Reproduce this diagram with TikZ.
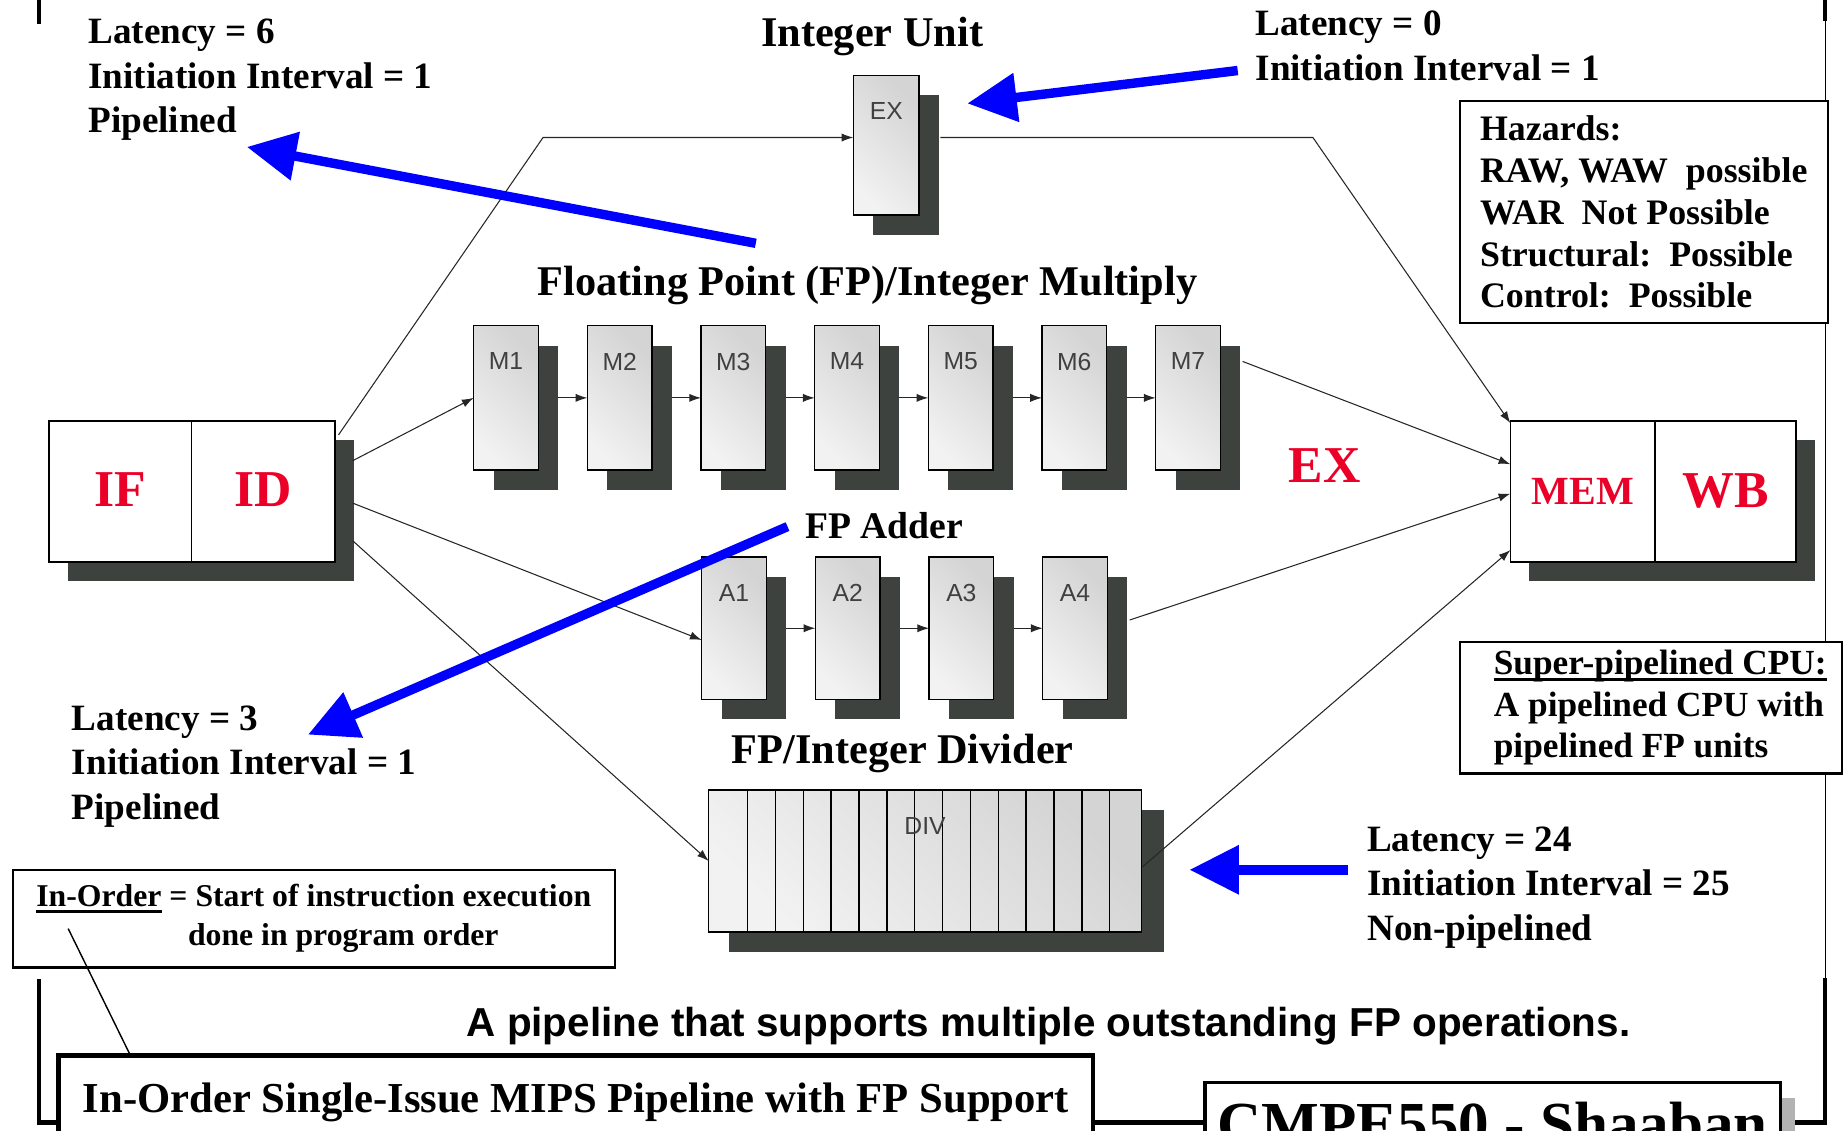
\documentclass[tikz,border=0pt]{standalone}
\usepackage{fontspec}
\setmainfont{Liberation Serif}
\setsansfont{Liberation Sans}
\usetikzlibrary{arrows.meta,calc,shadows}

\definecolor{slred}{RGB}{235,0,40}
\definecolor{slblue}{RGB}{0,0,255}
\definecolor{shadowgray}{RGB}{62,66,62}

% heavy underline as on the slide
\newcommand\ulbold[1]{\setbox0\hbox{#1}\rlap{\rule[-5pt]{\wd0}{2.6pt}}\box0\relax}

\tikzset{
  stage/.style={draw=black, line width=1.2pt, inner sep=0pt, outer sep=0pt,
    left color=gray!10, right color=gray!34, shading angle=135,
    drop shadow={shadow xshift=17pt, shadow yshift=-17pt, fill=shadowgray, opacity=1}},
  stagelbl/.style={font=\fontsize{21}{24}\sffamily, text=black!75, anchor=north, yshift=-23pt, inner sep=0pt},
  pipebox/.style={draw=black, line width=1.5pt, fill=white, inner sep=0pt, outer sep=0pt,
    minimum height=120pt, text=slred,
    drop shadow={shadow xshift=16pt, shadow yshift=-16pt, fill=shadowgray, opacity=1}},
  link/.style={draw=black!85, line width=0.9pt, -{Latex[length=10pt,width=7pt]}},
  bluearrow/.style={draw=slblue, line width=8pt, -{Triangle[length=42pt,width=40pt]}, fill=slblue},
  note/.style={font=\fontsize{31.6}{38}\selectfont\bfseries, align=left, inner sep=0pt, anchor=north west},
  unitlbl/.style={font=\fontsize{36}{40}\selectfont\bfseries, inner sep=0pt},
  infobox/.style={draw=black, line width=2pt, fill=white, align=left, inner sep=0pt},
  frame/.style={line width=3.5pt}
}

\begin{document}
\begin{tikzpicture}[x=1pt, y=-1pt]
  \useasboundingbox (0,0) rectangle (1568,962);

  % slide frame
  \draw[frame] (33,0) -- (33,20);
  \draw[line width=0.8pt] (1553,0) -- (1553,832);
  \draw[frame] (1553,0) -- (1553,18);
  \draw[frame] (33,833) -- (33,955) -- (50,955);
  \draw[frame] (930,955) -- (1025,955);
  \draw[frame] (1515,955) -- (1553,955) -- (1553,832);

  % IF / ID and MEM / WB
  \node[pipebox, minimum width=121pt, font=\fontsize{44}{48}\selectfont\bfseries] (iff) at (102.5,418) {\raisebox{3pt}{IF}};
  \node[pipebox, minimum width=122pt, font=\fontsize{44}{48}\selectfont\bfseries] (idd) at (224,418) {\raisebox{3pt}{ID}};
  \node[pipebox, minimum width=123pt, font=\fontsize{34}{40}\selectfont\bfseries] (mem) at (1346.5,418) {\raisebox{-5pt}{MEM}};
  \node[pipebox, minimum width=120pt, font=\fontsize{44}{48}\selectfont\bfseries] (wb) at (1468,418) {\raisebox{-5pt}{WB}};

  % integer unit
  \node[unitlbl] (intlbl) at (742,31) {Integer Unit};
  \node[stage, minimum width=56pt, minimum height=119pt, label={[stagelbl]north:EX}] (ex) at (754,123.5) {};

  % multiplier
  \node[unitlbl] (mullbl) at (738,243) {Floating Point (FP)/Integer Multiply};
  \foreach \i in {1,...,7}
    \node[stage, minimum width=55pt, minimum height=123pt, label={[stagelbl]north:M\i}] (m\i) at ({430.5+96.7*(\i-1)},338.5) {};
  \foreach \i [evaluate=\i as \j using int(\i+1)] in {1,...,6}
    \draw[link] ($(m\i.east)+(17,0)$) -- (m\j.west);

  % adder
  \node[unitlbl, font=\fontsize{32}{36}\selectfont\bfseries] (addlbl) at (752,447) {FP Adder};
  \foreach \i in {1,...,4}
    \node[stage, minimum width=55pt, minimum height=121pt, label={[stagelbl]north:A\i}] (a\i) at ({624.5+96.7*(\i-1)},534.5) {};
  \foreach \i [evaluate=\i as \j using int(\i+1)] in {1,...,3}
    \draw[link] ($(a\i.east)+(17,0)$) -- (a\j.west);

  % divider
  \node[unitlbl] (divlbl) at (768,641) {FP/Integer Divider};
  \node[stage, minimum width=368pt, minimum height=121pt,
    drop shadow={shadow xshift=19pt, shadow yshift=-17pt, fill=shadowgray, opacity=1},
    path picture={\foreach \k in {0,...,13}
      \draw[line width=1.2pt] ($(path picture bounding box.north west)+({33+23.7*\k},0)$) -- ++(0,130);},
    label={[stagelbl]north:DIV}] (div) at (787,732.5) {};

  % connectors
  \coordinate (intbend) at (462,117);
  \coordinate (exbend) at (1117,117);
  \coordinate (exout) at ($(ex.east)+(18,-6.5)$);
  \draw[link] ($(idd.north east)+(3,12)$) -- (intbend) -- (intbend -| ex.west);
  \draw[link] (exout) -- (exbend) -- ($(mem.north west)+(0,2)$);
  \draw[link] ($(idd.east)+(15,-26)$) -- (m1.west);
  \draw[link] ($(idd.east)+(15,10)$) -- ($(a1.west)+(0,10)$);
  \draw[link] ($(idd.east)+(15,42)$) -- (div.west);
  \draw[link] ($(m7.east)+(19,-31)$) -- ($(mem.west)+(0,-23)$);
  \draw[link] ($(a4.east)+(19,-7)$) -- ($(mem.west)+(0,2)$);
  \draw[link] ($(div.east)+(1,5)$) -- ($(mem.south west)+(0,-10)$);

  \node[text=slred, font=\fontsize{44}{48}\selectfont\bfseries, inner sep=0pt] (exphase) at (1127,396) {EX};

  % latency notes
  \node[note] (lat6) at (75,16) {Latency = 6\\Initiation Interval = 1\\Pipelined};
  \node[note] (lat0) at (1068,9) {Latency = 0\\Initiation Interval = 1};
  \node[note] (lat3) at (61,600) {Latency = 3\\Initiation Interval = 1\\Pipelined};
  \node[note] (lat24) at (1163,703) {Latency = 24\\Initiation Interval = 25\\Non-pipelined};

  % blue pointers
  \coordinate (mulnote) at (643,207);
  \coordinate (lat6tip) at (210,125);
  \coordinate (intnote) at (1053,60);
  \coordinate (lat0tip) at (823,88);
  \coordinate (addnote) at (670,448);
  \coordinate (lat3tip) at (262,625);
  \coordinate (divnote) at (1147,740);
  \coordinate (lat24tip) at (1012,740);
  \draw[bluearrow] (mulnote) -- (lat6tip);
  \draw[bluearrow] (intnote) -- (lat0tip);
  \draw[bluearrow] (addnote) -- (lat3tip);
  \draw[bluearrow] (divnote) -- (lat24tip);

  % side boxes
  \node[infobox, minimum width=313pt, minimum height=189pt, font=\fontsize{30.5}{35.5}\selectfont\bfseries] (hazards) at (1398.5,180.5)
    {Hazards:\\RAW, WAW\ \ possible\\WAR\ \ Not Possible\\Structural:\ \ Possible\\Control:\ \ Possible};
  \node[infobox, minimum width=325pt, minimum height=112pt, font=\fontsize{30}{35}\selectfont\bfseries] (superp) at (1404.5,602)
    {\hspace*{16pt}\ulbold{Super-pipelined CPU:}\\\hspace*{16pt}A pipelined CPU with\\\hspace*{16pt}pipelined FP units};
  \node[infobox, minimum width=512pt, minimum height=83pt, font=\fontsize{27}{33}\selectfont\bfseries] (inorder) at (267,781.5)
    {\ulbold{In-Order} = Start of instruction execution\\\hspace*{129pt}done in program order};

  \node[font=\fontsize{34.4}{40}\selectfont\sffamily\bfseries, inner sep=0pt] (caption) at (892,873)
    {A pipeline that supports multiple outstanding FP operations.};

  % title bar
  \node[draw=black, line width=4pt, fill=white, minimum width=880pt, minimum height=80pt, inner sep=0pt,
    font=\fontsize{36.3}{40}\selectfont\bfseries] (title) at (490,938)
    {In-Order Single-Issue MIPS Pipeline with FP Support};
  \node[draw=black, line width=3pt, fill=white, minimum width=490pt, minimum height=70pt, inner sep=0pt,
    drop shadow={shadow xshift=12pt, shadow yshift=-13pt, fill=gray!60, opacity=1},
    font=\fontsize{52}{60}\selectfont\bfseries] (cmpe) at (1270,956) {CMPE550 - Shaaban};
  \coordinate (uline) at (58,790);
  \draw[line width=1.2pt] (uline) -- ($(title.north west)+(62,0)$);
\end{tikzpicture}
\end{document}
